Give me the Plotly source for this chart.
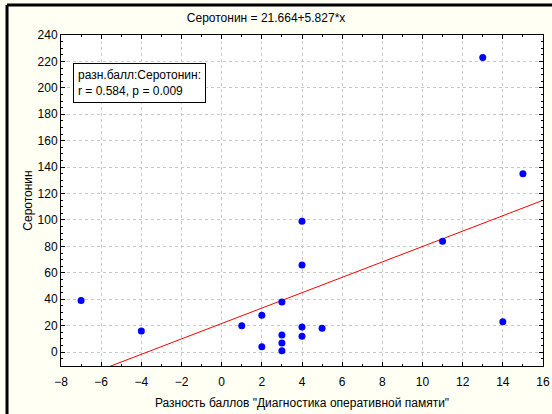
import plotly.graph_objects as go

# Difference in "working memory diagnostics" scores vs serotonin level
score_diff = [-7, -4, 1, 2, 2, 3, 3, 3, 3, 4, 4, 5, 4, 4, 13, 15, 11, 14]
serotonin = [39, 16, 20, 28, 4, 38, 13, 7, 1, 19, 12, 18, 99, 66, 223, 135, 84, 23]

# Linear fit coefficients
intercept = 21.664
slope = 5.827
fit_x = [-8, 16]
fit_y = [intercept + slope * x for x in fit_x]

FONT = "Liberation Sans, Arial, sans-serif"

fig = go.Figure()
fig.add_trace(go.Scatter(
    x=fit_x, y=fit_y, mode="lines",
    line=dict(color="#FF0000", width=1), hoverinfo="skip",
))
fig.add_trace(go.Scatter(
    x=score_diff, y=serotonin, mode="markers",
    marker=dict(color="#0000FF", size=7),
))

axis_common = dict(
    showline=True, linecolor="black", linewidth=1, mirror="allticks",
    ticks="inside", ticklen=4, tickcolor="black",
    showgrid=True, gridcolor="#C8C8C8", griddash="dot", gridwidth=1,
    zeroline=False, automargin=False,
    tickfont=dict(family=FONT, size=12, color="black"),
)

fig.update_xaxes(
    range=[-8, 16], dtick=2, tick0=-8, ticklabelstandoff=5,
    minor=dict(dtick=1, ticks="inside", ticklen=2, tickcolor="black", showgrid=False),
    title=dict(text='Разность баллов "Диагностика оперативной памяти"',
               font=dict(family=FONT, size=12, color="black"), standoff=10),
    **axis_common,
)
fig.update_yaxes(
    range=[-10.5, 240], dtick=20, tick0=0,
    minor=dict(dtick=5, ticks="inside", ticklen=2, tickcolor="black", showgrid=False),
    title=dict(text="Серотонин",
               font=dict(family=FONT, size=12, color="black"), standoff=2),
    **axis_common,
)

fig.add_annotation(
    xref="paper", yref="paper", x=0.025, y=0.915,
    xanchor="left", yanchor="top", align="left", showarrow=False,
    text="разн.балл:Серотонин:<br>r = 0.584, p = 0.009",
    font=dict(family=FONT, size=12, color="black"),
    bgcolor="white", bordercolor="black", borderwidth=1, borderpad=4,
)

# Outer frame along the top and left edges
fig.add_shape(type="line", xref="paper", yref="paper",
              x0=-0.112, x1=1.03, y0=1.091, y1=1.091,
              line=dict(color="black", width=3))
fig.add_shape(type="line", xref="paper", yref="paper",
              x0=-0.112, x1=-0.112, y0=1.091, y1=-0.2,
              line=dict(color="black", width=3))

fig.update_layout(
    width=552, height=414,
    margin=dict(l=61, r=9, t=35, b=48),
    paper_bgcolor="#FFFFF4", plot_bgcolor="white",
    showlegend=False,
    title=dict(text="Серотонин = 21.664+5.827*x", x=0.482, xanchor="center",
               y=0.956, yanchor="middle",
               font=dict(family=FONT, size=12, color="black")),
)

fig.write_html("out.html")
